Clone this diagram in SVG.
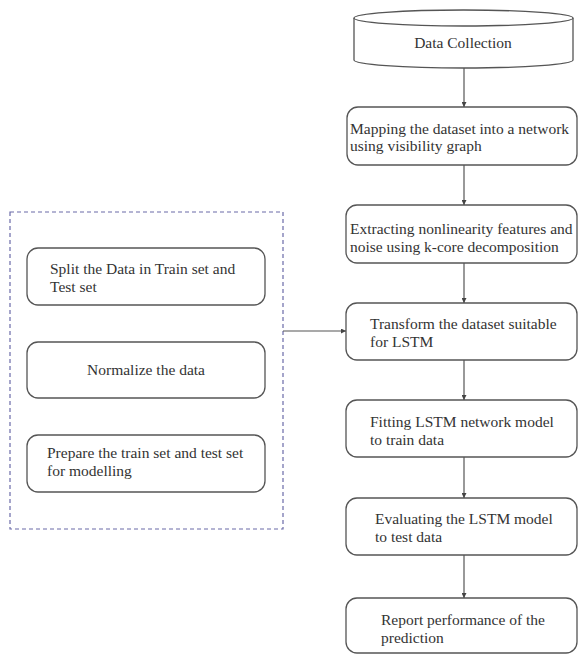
<svg xmlns="http://www.w3.org/2000/svg" width="579" height="656" viewBox="0 0 579 656">
<style>
.box{fill:#fff;stroke:#555;stroke-width:1.3}
.t{font-family:'Liberation Serif','Times New Roman',serif;font-size:15.5px;fill:#333}
.c{stroke:#555;stroke-width:1.2;fill:none}
</style>
<defs>
<marker id="ah" viewBox="0 0 6 6" refX="6" refY="3" markerWidth="5" markerHeight="5" orient="auto" markerUnits="userSpaceOnUse">
<path d="M0,0 L6,3 L0,6 z" fill="#444"/>
</marker>
</defs>
<rect width="579" height="656" fill="#fff"/>
<g id="group-left">
<rect x="10" y="212" width="273" height="317" fill="none" stroke="#6a6aa8" stroke-width="1.2" stroke-dasharray="4,3"/>
</g>
<g id="n-datacollection">
<path class="box" d="M354,18 L354,60 A109.5,8 0 0 0 573,60 L573,18"/>
<ellipse class="box" cx="463.5" cy="18" rx="109.5" ry="8"/>
<text class="t" x="463" y="48" text-anchor="middle">Data Collection</text>
</g>
<g id="n-mapping">
<rect class="box" x="347" y="107" width="230" height="58" rx="11"/>
<text class="t" x="350" y="134">Mapping the dataset into a network</text>
<text class="t" x="350" y="151">using visibility graph</text>
</g>
<g id="n-extracting">
<rect class="box" x="346" y="205" width="231" height="58" rx="11"/>
<text class="t" x="350" y="234">Extracting nonlinearity features and</text>
<text class="t" x="350" y="252">noise using k-core decomposition</text>
</g>
<g id="n-transform">
<rect class="box" x="346" y="303" width="231" height="57" rx="11"/>
<text class="t" x="370" y="329">Transform the dataset suitable</text>
<text class="t" x="370" y="347">for LSTM</text>
</g>
<g id="n-fitting">
<rect class="box" x="346" y="400" width="231" height="57" rx="11"/>
<text class="t" x="370" y="427">Fitting LSTM network model</text>
<text class="t" x="370" y="445">to train data</text>
</g>
<g id="n-evaluating">
<rect class="box" x="346" y="498" width="231" height="57" rx="11"/>
<text class="t" x="375" y="524">Evaluating the LSTM model</text>
<text class="t" x="375" y="542">to test data</text>
</g>
<g id="n-report">
<rect class="box" x="346" y="598" width="231" height="55" rx="11"/>
<text class="t" x="381" y="625">Report performance of the</text>
<text class="t" x="381" y="643">prediction</text>
</g>
<g id="n-split">
<rect class="box" x="27" y="248" width="238" height="57" rx="11"/>
<text class="t" x="50" y="274">Split the Data in Train set and</text>
<text class="t" x="50" y="292">Test set</text>
</g>
<g id="n-normalize">
<rect class="box" x="27" y="342" width="238" height="56" rx="11"/>
<text class="t" x="146" y="375" text-anchor="middle">Normalize the data</text>
</g>
<g id="n-prepare">
<rect class="box" x="27" y="435" width="238" height="57" rx="11"/>
<text class="t" x="47" y="458">Prepare the train set and test set</text>
<text class="t" x="47" y="476">for modelling</text>
</g>
<g id="connectors">
<line class="c" x1="464" y1="68" x2="464" y2="107" marker-end="url(#ah)"/>
<line class="c" x1="464" y1="165" x2="464" y2="205" marker-end="url(#ah)"/>
<line class="c" x1="464" y1="263" x2="464" y2="303" marker-end="url(#ah)"/>
<line class="c" x1="464" y1="360" x2="464" y2="400" marker-end="url(#ah)"/>
<line class="c" x1="464" y1="457" x2="464" y2="498" marker-end="url(#ah)"/>
<line class="c" x1="464" y1="555" x2="464" y2="598" marker-end="url(#ah)"/>
<line class="c" x1="283" y1="331" x2="346" y2="331" marker-end="url(#ah)"/>
</g>
</svg>
